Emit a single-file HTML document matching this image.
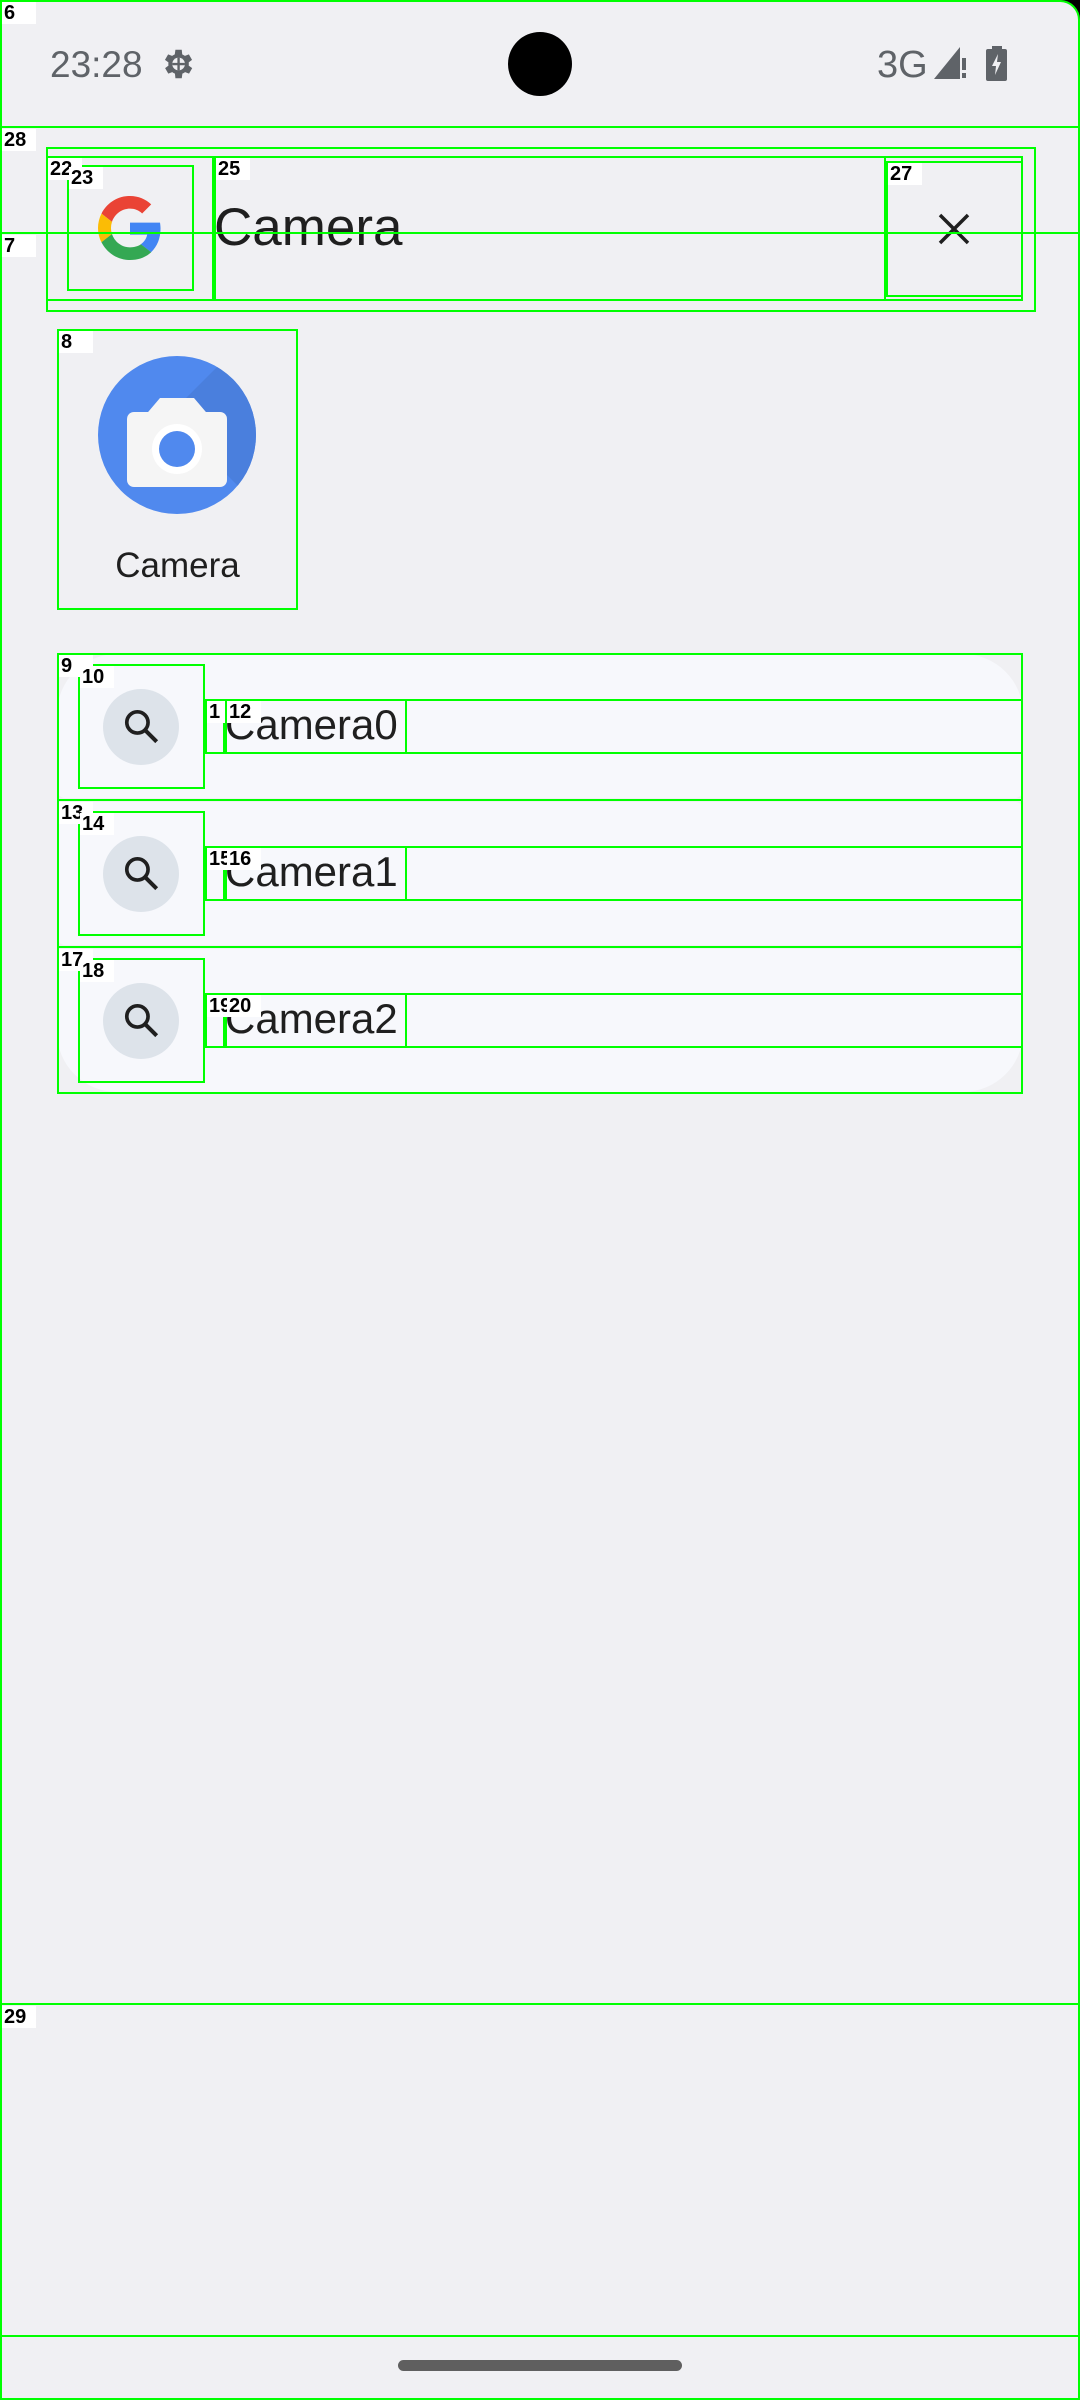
<!DOCTYPE html>
<html><head><meta charset="utf-8"><style>
html,body{margin:0;padding:0}
body{width:1080px;height:2400px;position:relative;background:#f0f0f3;overflow:hidden;font-family:"Liberation Sans",sans-serif}
.a{position:absolute}
.g{position:absolute;border:2px solid #00ff00;box-sizing:border-box}
.hl{position:absolute;left:0;width:1080px;height:2px;background:#00ff00}
.lb{position:absolute;background:#fff;color:#000;font:bold 20px "Liberation Sans",sans-serif;line-height:22px;padding:0 2px;min-width:30px}
.row{position:absolute;left:57px;width:966px;background:#f7f8fc}
.sc{position:absolute;left:103px;width:76px;height:76px;border-radius:50%;background:#dde3ea}
.t{position:absolute;left:225px;font-size:42px;color:#1f1f1f}
</style></head><body>
<!-- status bar -->
<div class="a" style="left:50px;top:44px;font-size:37px;color:#5f6368">23:28</div>
<svg class="a" style="left:158px;top:45px" width="38" height="38" viewBox="0 0 24 24"><path fill="#5f6368" d="M19.4 13a7.5 7.5 0 000-2l2.1-1.6-2-3.5-2.5 1a7 7 0 00-1.7-1L15 3h-4l-.4 2.9a7 7 0 00-1.7 1l-2.5-1-2 3.5L6.6 11a7.5 7.5 0 000 2l-2.1 1.6 2 3.5 2.5-1a7 7 0 001.7 1L11 21h4l.4-2.9a7 7 0 001.7-1l2.5 1 2-3.5z"/><circle cx="13" cy="12" r="4" fill="#f0f0f3"/><path d="M13 8v8M9 12h8" stroke="#5f6368" stroke-width="1.5"/></svg>
<div class="a" style="left:508px;top:32px;width:64px;height:64px;border-radius:50%;background:#000"></div>
<div class="a" style="left:877px;top:44px;font-size:38px;color:#5f6368">3G</div>
<svg class="a" style="left:934px;top:47px" width="34" height="32"><polygon points="0,32 26,0 26,32" fill="#5f6368"/><rect x="27" y="10" width="6" height="14" fill="#f0f0f3"/><rect x="28" y="11" width="4" height="12" fill="#5f6368"/><rect x="28" y="26" width="4" height="5" fill="#5f6368"/></svg>
<svg class="a" style="left:986px;top:46px" width="22" height="35"><rect x="6" y="0" width="10" height="4" fill="#5f6368"/><rect x="0" y="3" width="21" height="32" rx="2" fill="#5f6368"/><polygon points="12,8 6,20 10,20 9,29 15,16 11,16" fill="#f0f0f3"/></svg>
<div class="a" style="right:0;top:0;width:20px;height:20px;background:radial-gradient(circle at 0 100%,transparent 19px,#000 20px)"></div>

<!-- search bar -->
<svg class="a" style="left:98px;top:196px" width="64" height="64" viewBox="0 0 48 48"><path fill="#EA4335" d="M24 9.5c3.5 0 6.6 1.2 9.1 3.6l6.8-6.8C35.8 2.4 30.4 0 24 0 14.6 0 6.6 5.4 2.6 13.2l7.9 6.2C12.4 13.7 17.7 9.5 24 9.5z"/><path fill="#4285F4" d="M46.9 24.5c0-1.6-.2-3.1-.4-4.5H24v9h12.9c-.6 3-2.3 5.5-4.8 7.2l7.7 6c4.5-4.2 7.1-10.3 7.1-17.7z"/><path fill="#FBBC05" d="M10.5 28.6A14.5 14.5 0 0110.5 19.4l-7.9-6.2A24 24 0 000 24c0 3.9.9 7.5 2.6 10.8z"/><path fill="#34A853" d="M24 48c6.5 0 11.9-2.1 15.9-5.8l-7.7-6c-2.2 1.5-5 2.3-8.2 2.3-6.3 0-11.6-4.2-13.5-10l-7.9 6.2C6.6 42.6 14.6 48 24 48z"/></svg>
<div class="a" style="left:214px;top:196px;font-size:53px;color:#1f1f1f;line-height:64px">Camera</div>
<svg class="a" style="left:937px;top:212px" width="34" height="34"><path d="M3 3L31 31M31 3L3 31" stroke="#1f1f1f" stroke-width="3.5"/></svg>

<!-- app icon -->
<div class="a" style="left:98px;top:356px;width:158px;height:158px;border-radius:50%;background:#5089ee;overflow:hidden">
 <div class="a" style="left:70px;top:60px;width:150px;height:150px;background:#4a7fdd;transform:rotate(-45deg);transform-origin:0 0"></div>
 <div class="a" style="left:45px;top:42px;width:68px;height:20px;background:#f5f5f5;clip-path:polygon(25% 0,75% 0,100% 100%,0 100%)"></div>
 <div class="a" style="left:29px;top:56px;width:100px;height:75px;background:#f5f5f5;border-radius:7px"></div>
 <div class="a" style="left:54px;top:68px;width:50px;height:50px;border-radius:50%;background:#fff"></div>
 <div class="a" style="left:61px;top:75px;width:36px;height:36px;border-radius:50%;background:#5089ee"></div>
</div>
<div class="a" style="left:57px;width:241px;top:546px;text-align:center;font-size:35px;color:#1f1f1f">Camera</div>

<!-- suggestions -->
<div class="row" style="top:654px;height:144px;border-radius:60px 60px 8px 8px"></div>
<div class="row" style="top:802px;height:143px;border-radius:8px"></div>
<div class="row" style="top:949px;height:143px;border-radius:8px 8px 60px 60px"></div>
<div class="sc" style="top:689px"></div>
<div class="sc" style="top:836px"></div>
<div class="sc" style="top:983px"></div>
<svg class="a" style="left:120px;top:705px" width="44" height="44" viewBox="0 0 24 24"><circle cx="9.5" cy="9.5" r="5.8" fill="none" stroke="#1f1f1f" stroke-width="2"/><path d="M14 14l6 6" stroke="#1f1f1f" stroke-width="2.2"/></svg>
<svg class="a" style="left:120px;top:852px" width="44" height="44" viewBox="0 0 24 24"><circle cx="9.5" cy="9.5" r="5.8" fill="none" stroke="#1f1f1f" stroke-width="2"/><path d="M14 14l6 6" stroke="#1f1f1f" stroke-width="2.2"/></svg>
<svg class="a" style="left:120px;top:999px" width="44" height="44" viewBox="0 0 24 24"><circle cx="9.5" cy="9.5" r="5.8" fill="none" stroke="#1f1f1f" stroke-width="2"/><path d="M14 14l6 6" stroke="#1f1f1f" stroke-width="2.2"/></svg>
<div class="t" style="top:701px">Camera0</div>
<div class="t" style="top:848px">Camera1</div>
<div class="t" style="top:995px">Camera2</div>

<div class="a" style="left:398px;top:2360px;width:284px;height:11px;border-radius:6px;background:#5f5f5f"></div>

<!-- annotation overlay -->
<div class="g" style="left:0;top:0;width:1080px;height:2400px;border-radius:0 20px 0 0"></div>
<div class="hl" style="top:126px"></div>
<div class="hl" style="top:232px"></div>
<div class="hl" style="top:2003px"></div>
<div class="hl" style="top:2335px"></div>
<div class="g" style="left:46px;top:147px;width:990px;height:165px"></div>
<div class="g" style="left:46px;top:156px;width:977px;height:145px"></div>
<div class="g" style="left:46px;top:156px;width:168px;height:145px"></div>
<div class="g" style="left:67px;top:165px;width:127px;height:126px"></div>
<div class="g" style="left:214px;top:156px;width:672px;height:145px"></div>
<div class="g" style="left:886px;top:161px;width:137px;height:136px"></div>
<div class="g" style="left:57px;top:329px;width:241px;height:281px"></div>
<div class="g" style="left:57px;top:653px;width:966px;height:441px"></div>
<div class="g" style="left:57px;top:799px;width:966px;height:2px;border-width:1px"></div>
<div class="g" style="left:57px;top:946px;width:966px;height:2px;border-width:1px"></div>
<div class="g" style="left:78px;top:664px;width:127px;height:125px"></div>
<div class="g" style="left:205px;top:699px;width:818px;height:55px"></div>
<div class="g" style="left:205px;top:699px;width:20px;height:55px"></div>
<div class="g" style="left:225px;top:699px;width:182px;height:55px"></div>
<div class="g" style="left:78px;top:811px;width:127px;height:125px"></div>
<div class="g" style="left:205px;top:846px;width:818px;height:55px"></div>
<div class="g" style="left:205px;top:846px;width:20px;height:55px"></div>
<div class="g" style="left:225px;top:846px;width:182px;height:55px"></div>
<div class="g" style="left:78px;top:958px;width:127px;height:125px"></div>
<div class="g" style="left:205px;top:993px;width:818px;height:55px"></div>
<div class="g" style="left:205px;top:993px;width:20px;height:55px"></div>
<div class="g" style="left:225px;top:993px;width:182px;height:55px"></div>

<div class="lb" style="left:2px;top:2px">6</div>
<div class="lb" style="left:2px;top:129px">28</div>
<div class="lb" style="left:2px;top:235px">7</div>
<div class="lb" style="left:48px;top:158px">22</div>
<div class="lb" style="left:69px;top:167px">23</div>
<div class="lb" style="left:216px;top:158px">25</div>
<div class="lb" style="left:888px;top:163px">27</div>
<div class="lb" style="left:59px;top:331px">8</div>
<div class="lb" style="left:59px;top:655px">9</div>
<div class="lb" style="left:80px;top:666px">10</div>
<div class="lb" style="left:207px;top:701px;min-width:14px">1</div>
<div class="lb" style="left:227px;top:701px">12</div>
<div class="lb" style="left:59px;top:802px">13</div>
<div class="lb" style="left:80px;top:813px">14</div>
<div class="lb" style="left:207px;top:848px;min-width:14px">15</div>
<div class="lb" style="left:227px;top:848px">16</div>
<div class="lb" style="left:59px;top:949px">17</div>
<div class="lb" style="left:80px;top:960px">18</div>
<div class="lb" style="left:207px;top:995px;min-width:14px">19</div>
<div class="lb" style="left:227px;top:995px">20</div>
<div class="lb" style="left:2px;top:2006px">29</div>
</body></html>
